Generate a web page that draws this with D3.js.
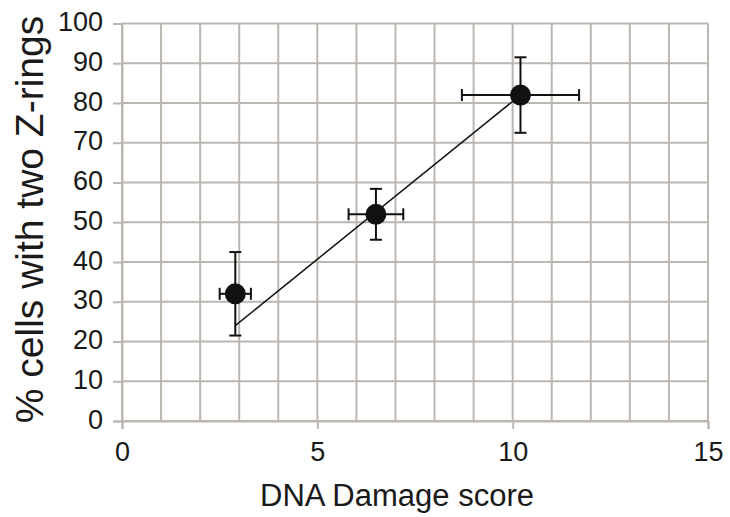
<!DOCTYPE html>
<html>
<head>
<meta charset="utf-8">
<script src="https://cdn.jsdelivr.net/npm/d3@7"></script>
<style>
  html, body { margin: 0; padding: 0; background: #ffffff; }
  svg { display: block; }
  text { font-family: "Liberation Sans", Arial, sans-serif; fill: #1a1a1a; }
</style>
</head>
<body>
<svg id="chart" width="730" height="517"></svg>
<script>
// DNA damage score vs. share of cells with two Z-rings
const damageScore = [2.9, 6.5, 10.2];
const damageErr = [0.4, 0.7, 1.5];
const twoRingPct = [32, 52, 82];
const twoRingErr = [10.5, 6.4, 9.5];

// trend segment drawn through the points
const trendX = [2.9, 10.2];
const trendY = [24, 82];

const xTicks = [0, 5, 10, 15];
const yTicks = [0, 10, 20, 30, 40, 50, 60, 70, 80, 90, 100];
const xGrid = d3.range(0, 16, 1);

const xTitle = "DNA Damage score";
const yTitle = "% cells with two Z-rings";

const svg = d3.select("#chart");
const plotLeft = 122, plotRight = 708, plotTop = 23.5, plotBottom = 421;

const x = d3.scaleLinear().domain([0, 15]).range([plotLeft, plotRight]);
const y = d3.scaleLinear().domain([0, 100]).range([plotBottom, plotTop]);

const gridColor = "#bcb6b0";

// grid
const grid = svg.append("g");
grid.selectAll("line.v").data(xGrid).join("line")
  .attr("class", "v")
  .attr("x1", d => x(d)).attr("x2", d => x(d))
  .attr("y1", y(100)).attr("y2", y(0))
  .attr("stroke", gridColor).attr("stroke-width", 2);
grid.selectAll("line.h").data(yTicks).join("line")
  .attr("class", "h")
  .attr("x1", x(0)).attr("x2", x(15))
  .attr("y1", d => y(d)).attr("y2", d => y(d))
  .attr("stroke", gridColor).attr("stroke-width", 2);

// axes
const xAxis = svg.append("g")
  .attr("transform", `translate(0,${y(0)})`)
  .call(d3.axisBottom(x).tickValues(xTicks).tickSize(8).tickPadding(13).tickFormat(d3.format("d")));
const yAxis = svg.append("g")
  .attr("transform", `translate(${x(0)},0)`)
  .call(d3.axisLeft(y).tickValues(yTicks).tickSize(9).tickPadding(10).tickFormat(d3.format("d")));

[xAxis, yAxis].forEach(g => {
  g.select(".domain").attr("stroke", gridColor).attr("stroke-width", 2);
  g.selectAll(".tick line").attr("stroke", gridColor).attr("stroke-width", 2);
  g.selectAll(".tick text").attr("font-size", 27).attr("fill", "#1a1a1a")
    .attr("font-family", "'Liberation Sans', Arial, sans-serif");
});
yAxis.selectAll(".tick text").attr("dy", "0.26em");
xAxis.selectAll(".tick text").attr("dy", "0.71em");

// trend line
svg.append("line")
  .attr("x1", x(trendX[0])).attr("y1", y(trendY[0]))
  .attr("x2", x(trendX[1])).attr("y2", y(trendY[1]))
  .attr("stroke", "#111").attr("stroke-width", 1.5);

// error bars
const pts = damageScore.map((d, i) => ({ x: d, xe: damageErr[i], y: twoRingPct[i], ye: twoRingErr[i] }));
const cap = 6;
const eb = svg.append("g").attr("stroke", "#111").attr("stroke-width", 2);
pts.forEach(p => {
  eb.append("line").attr("x1", x(p.x)).attr("x2", x(p.x))
    .attr("y1", y(p.y - p.ye)).attr("y2", y(p.y + p.ye));
  eb.append("line").attr("x1", x(p.x) - cap).attr("x2", x(p.x) + cap)
    .attr("y1", y(p.y + p.ye)).attr("y2", y(p.y + p.ye));
  eb.append("line").attr("x1", x(p.x) - cap).attr("x2", x(p.x) + cap)
    .attr("y1", y(p.y - p.ye)).attr("y2", y(p.y - p.ye));
  eb.append("line").attr("x1", x(p.x - p.xe)).attr("x2", x(p.x + p.xe))
    .attr("y1", y(p.y)).attr("y2", y(p.y));
  eb.append("line").attr("x1", x(p.x - p.xe)).attr("x2", x(p.x - p.xe))
    .attr("y1", y(p.y) - cap).attr("y2", y(p.y) + cap);
  eb.append("line").attr("x1", x(p.x + p.xe)).attr("x2", x(p.x + p.xe))
    .attr("y1", y(p.y) - cap).attr("y2", y(p.y) + cap);
});

// markers
svg.append("g").selectAll("circle").data(pts).join("circle")
  .attr("cx", d => x(d.x)).attr("cy", d => y(d.y)).attr("r", 10.5)
  .attr("fill", "#111");

// titles
svg.append("text")
  .attr("x", 397).attr("y", 506)
  .attr("text-anchor", "middle").attr("font-size", 31)
  .text(xTitle);
svg.append("text")
  .attr("transform", "translate(43,219.5) rotate(-90)")
  .attr("text-anchor", "middle").attr("font-size", 39)
  .text(yTitle);
</script>
</body>
</html>
